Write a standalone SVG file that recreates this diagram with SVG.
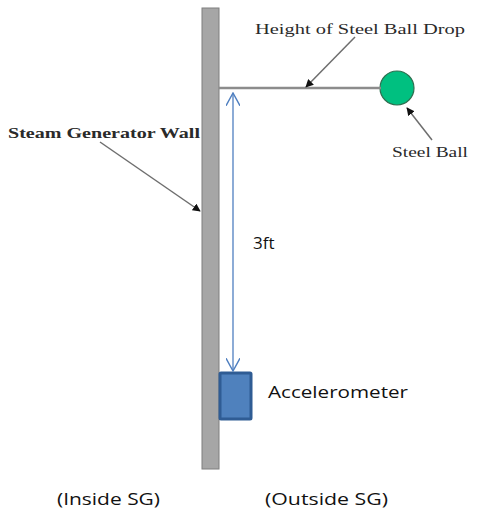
<svg xmlns="http://www.w3.org/2000/svg" width="492" height="520" viewBox="0 0 492 520">
<defs>
<style>
.serif{font-family:"Liberation Serif","Times New Roman",serif;fill:#2a2a2a}
.sans{font-family:"Open Sans","Liberation Sans",sans-serif;fill:#111}
.lead{stroke:#6e6e6e;stroke-width:1.5;fill:none}
</style>
<marker id="tri" viewBox="0 0 10 10" refX="9" refY="5" markerWidth="8" markerHeight="8" markerUnits="userSpaceOnUse" orient="auto"><path d="M0,0 L10,5 L0,10 z" fill="#111"/></marker>
<marker id="open" viewBox="0 0 12 12" refX="11" refY="6" markerWidth="14" markerHeight="14" markerUnits="userSpaceOnUse" orient="auto-start-reverse"><path d="M0,0 L11,6 L0,12" fill="none" stroke="#4f7fc0" stroke-width="1.2"/></marker>
</defs>
<rect width="492" height="520" fill="#fff"/>
<g id="wall"><rect x="202" y="8" width="17" height="461" fill="#a6a6a6" stroke="#7f7f7f" stroke-width="1"/></g>
<g id="ball"><circle cx="397" cy="88" r="17" fill="#00c080" stroke="#2f6f50" stroke-width="1.2"/></g>
<g id="accelerometer"><rect x="220" y="373" width="31" height="46" fill="#4f81bd" stroke="#2f5c94" stroke-width="3" rx="1"/></g>
<g id="connectors">
<line x1="219" y1="88" x2="381" y2="88" stroke="#8c8c8c" stroke-width="2.5"/>
<line x1="233" y1="93" x2="233" y2="371" stroke="#4f7fc0" stroke-width="1.3" marker-start="url(#open)" marker-end="url(#open)"/>
<line class="lead" x1="355" y1="37" x2="306" y2="87" marker-end="url(#tri)"/>
<line class="lead" x1="432" y1="140" x2="407" y2="108" marker-end="url(#tri)"/>
<line class="lead" x1="100" y1="142" x2="200" y2="211" marker-end="url(#tri)"/>
</g>
<g id="labels">
<text class="serif" x="255" y="34" font-size="15" textLength="210" lengthAdjust="spacingAndGlyphs">Height of  Steel Ball Drop</text>
<text class="serif" x="392" y="157" font-size="15" textLength="76" lengthAdjust="spacingAndGlyphs">Steel Ball</text>
<text class="serif" x="8" y="138" font-size="14" font-weight="bold" textLength="192" lengthAdjust="spacingAndGlyphs">Steam Generator Wall</text>
<text class="sans" x="253" y="249" font-size="17">3ft</text>
<text class="sans" x="268" y="398" font-size="17" textLength="140" lengthAdjust="spacingAndGlyphs">Accelerometer</text>
<text class="sans" x="57" y="505" font-size="16" textLength="103" lengthAdjust="spacingAndGlyphs">(Inside SG)</text>
<text class="sans" x="265" y="505" font-size="16" textLength="123" lengthAdjust="spacingAndGlyphs">(Outside SG)</text>
</g>
</svg>
